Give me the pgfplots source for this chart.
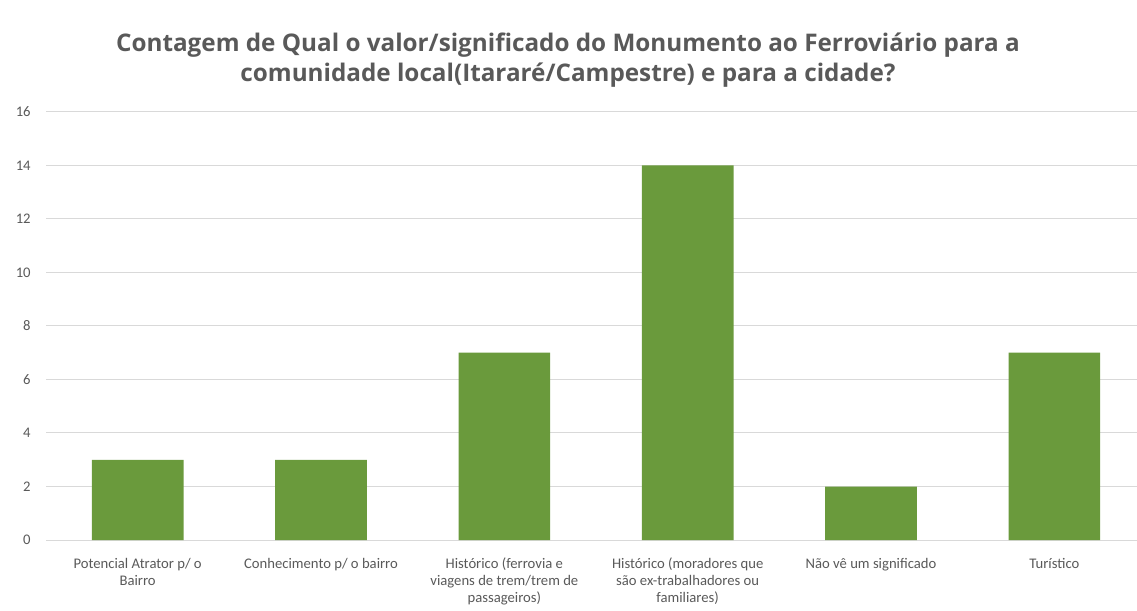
\documentclass[border=0pt]{standalone}
\usepackage{fontspec}
\setmainfont{Carlito}
\newfontfamily\titlefont{Open Sans}
\usepackage{pgfplots}
\pgfplotsset{compat=1.18}
\definecolor{bargreen}{HTML}{6A9A3C}
\definecolor{gridgray}{HTML}{D9D9D9}
\definecolor{txtgray}{HTML}{595959}

\begin{document}
\begin{tikzpicture}[x=0.75pt,y=0.75pt]
\useasboundingbox (-46,-70) rectangle (1091,540);
\begin{axis}[
    at={(0,0)}, anchor=south west,
    scale only axis,
    width=825pt, height=321pt,
    xmin=-0.5, xmax=5.5,
    ymin=0, ymax=16,
    ytick={0,2,...,16},
    xtick=data,
    xticklabels={{Potencial Atrator p/ o\\Bairro},
                 {Conhecimento p/ o bairro},
                 {Histórico (ferrovia e\\viagens de trem/trem de\\passageiros)},
                 {Histórico (moradores que\\são ex-trabalhadores ou\\familiares)},
                 {Não vê um significado},
                 {Turístico}},
    x tick label style={font=\fontsize{11}{12.75}\selectfont, text=txtgray, align=center, anchor=north, yshift=-10pt},
    y tick label style={font=\fontsize{11}{12}\selectfont, text=txtgray, xshift=-8pt},
    /pgf/number format/assume math mode=true,
    major tick length=0pt,
    axis line style={draw=none},
    ymajorgrids,
    grid style={draw=gridgray, line width=0.75pt},
    bar width=0.5,
    ybar,
    clip=false,
]
\addplot[fill=bargreen, draw=none] coordinates {
    (0,3) (1,3) (2,7) (3,14) (4,2) (5,7)
};
\end{axis}
\node[font=\titlefont\bfseries\fontsize{18.2}{22.5}\selectfont, text=txtgray, align=center] at (522,480)
  {Contagem de Qual o valor/significado do Monumento ao Ferroviário para a\\comunidade local(Itararé/Campestre) e para a cidade?};
\end{tikzpicture}
\end{document}
